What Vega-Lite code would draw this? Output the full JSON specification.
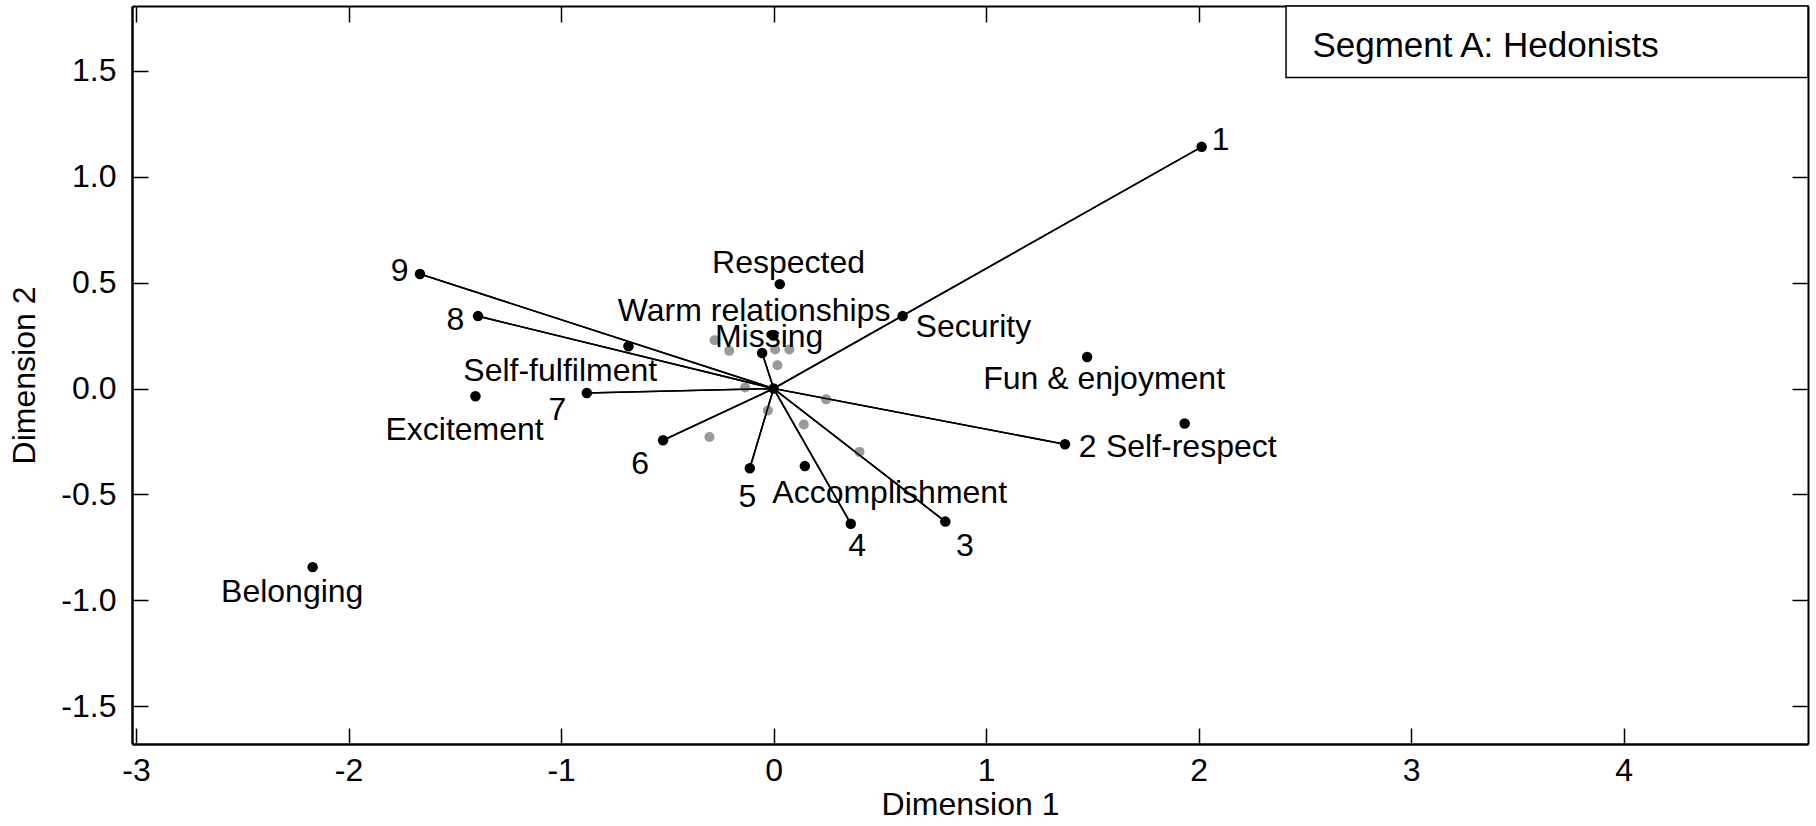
{
  "$schema": "https://vega.github.io/schema/vega-lite/v6.json",
  "width": 1676,
  "height": 738,
  "autosize": "none",
  "padding": {"left": 132, "top": 6, "right": 8, "bottom": 82},
  "background": "white",
  "config": {
    "view": {"stroke": null},
    "font": "Liberation Sans",
    "axis": {
      "grid": false,
      "domainColor": "black",
      "tickColor": "black",
      "labelColor": "black",
      "titleColor": "black",
      "labelFont": "Liberation Sans",
      "titleFont": "Liberation Sans",
      "labelFontSize": 32,
      "titleFontSize": 32,
      "titleFontWeight": "normal",
      "labelFlush": false,
      "labelOverlap": false,
      "tickSize": -16,
      "tickWidth": 1.5,
      "domainWidth": 2.5
    }
  },
  "datasets": {
    "rays": [
      {"ray": "1", "x": 0, "y": 0, "x2": 2.014, "y2": 1.141},
      {"ray": "2", "x": 0, "y": 0, "x2": 1.371, "y2": -0.263},
      {"ray": "3", "x": 0, "y": 0, "x2": 0.808, "y2": -0.628},
      {"ray": "4", "x": 0, "y": 0, "x2": 0.363, "y2": -0.638},
      {"ray": "5", "x": 0, "y": 0, "x2": -0.112, "y2": -0.376},
      {"ray": "6", "x": 0, "y": 0, "x2": -0.52, "y2": -0.244},
      {"ray": "7", "x": 0, "y": 0, "x2": -0.879, "y2": -0.021},
      {"ray": "8", "x": 0, "y": 0, "x2": -1.391, "y2": 0.342},
      {"ray": "9", "x": 0, "y": 0, "x2": -1.664, "y2": 0.541},
      {"ray": "m", "x": 0, "y": 0, "x2": -0.054, "y2": 0.168}
    ],
    "black": [
      {"x": 0, "y": 0},
      {"x": 2.014, "y": 1.141},
      {"x": 1.371, "y": -0.263},
      {"x": 0.808, "y": -0.628},
      {"x": 0.363, "y": -0.638},
      {"x": -0.112, "y": -0.376},
      {"x": -0.52, "y": -0.244},
      {"x": -0.879, "y": -0.021},
      {"x": -1.391, "y": 0.342},
      {"x": -1.664, "y": 0.541},
      {"x": -0.054, "y": 0.168},
      {"x": 0.607, "y": 0.342},
      {"x": 0.029, "y": 0.493},
      {"x": -0.001, "y": 0.25},
      {"x": -0.683, "y": 0.2},
      {"x": -1.403, "y": -0.036},
      {"x": 0.147, "y": -0.366},
      {"x": 1.475, "y": 0.149},
      {"x": 1.934, "y": -0.165},
      {"x": -2.169, "y": -0.843}
    ],
    "grey": [
      {"x": -0.278, "y": 0.228},
      {"x": -0.209, "y": 0.178},
      {"x": 0.007, "y": 0.184},
      {"x": 0.074, "y": 0.184},
      {"x": 0.018, "y": 0.11},
      {"x": -0.134, "y": 0.005},
      {"x": 0.247, "y": -0.051},
      {"x": -0.027, "y": -0.104},
      {"x": 0.142, "y": -0.17},
      {"x": -0.302, "y": -0.229},
      {"x": 0.404, "y": -0.299}
    ],
    "labels": [
      {"text": "1", "x": 2.103, "y": 1.173},
      {"text": "Security", "x": 0.94, "y": 0.291},
      {"text": "Fun & enjoyment", "x": 1.555, "y": 0.044},
      {"text": "2", "x": 1.478, "y": -0.276},
      {"text": "Self-respect", "x": 1.965, "y": -0.276},
      {"text": "Respected", "x": 0.07, "y": 0.595},
      {"text": "Warm relationships", "x": -0.092, "y": 0.365},
      {"text": "Missing", "x": -0.021, "y": 0.244},
      {"text": "Self-fulfilment", "x": -1.004, "y": 0.084},
      {"text": "Excitement", "x": -1.454, "y": -0.194},
      {"text": "7", "x": -1.017, "y": -0.103},
      {"text": "9", "x": -1.76, "y": 0.556},
      {"text": "8", "x": -1.497, "y": 0.323},
      {"text": "6", "x": -0.628, "y": -0.354},
      {"text": "5", "x": -0.123, "y": -0.512},
      {"text": "Accomplishment", "x": 0.546, "y": -0.491},
      {"text": "4", "x": 0.393, "y": -0.743},
      {"text": "3", "x": 0.9, "y": -0.743},
      {"text": "Belonging", "x": -2.265, "y": -0.961}
    ],
    "box": [
      {"x": 2.411, "x2": 4.867, "y": 1.469, "y2": 1.806, "text": "Segment A: Hedonists", "tx": 2.535, "ty": 1.617}
    ]
  },
  "layer": [
    {
      "data": {"name": "rays"},
      "mark": {"type": "rule", "color": "black", "strokeWidth": 1.6},
      "encoding": {
        "x": {"field": "x", "type": "quantitative", "scale": {"domain": [-3.019, 4.867], "nice": false, "zero": false},
          "axis": {"orient": "bottom", "values": [-3, -2, -1, 0, 1, 2, 3, 4], "labelExpr": "replace(format(datum.value, 'd'), '\u2212', '-')", "labelPadding": 27, "title": "Dimension 1", "titlePadding": 3}},
        "y": {"field": "y", "type": "quantitative", "scale": {"domain": [-1.678, 1.806], "nice": false, "zero": false},
          "axis": {"orient": "left", "values": [-1.5, -1, -0.5, 0, 0.5, 1, 1.5], "labelExpr": "replace(format(datum.value, '.1f'), '\u2212', '-')", "labelPadding": 32, "title": "Dimension 2", "titlePadding": 19}},
        "x2": {"field": "x2"},
        "y2": {"field": "y2"}
      }
    },
    {
      "data": {"name": "box"},
      "mark": {"type": "rect", "fill": "white", "stroke": "black", "strokeWidth": 1.5},
      "encoding": {
        "x": {"field": "x", "type": "quantitative", "scale": {"domain": [-3.019, 4.867], "nice": false, "zero": false},
          "axis": {"orient": "top", "values": [-3, -2, -1, 0, 1, 2, 3, 4], "labels": false, "title": null, "domainWidth": 2}},
        "x2": {"field": "x2"},
        "y": {"field": "y", "type": "quantitative", "scale": {"domain": [-1.678, 1.806], "nice": false, "zero": false},
          "axis": {"orient": "right", "values": [-1.5, -1, -0.5, 0, 0.5, 1, 1.5], "labels": false, "title": null, "domainWidth": 2}},
        "y2": {"field": "y2"}
      }
    },
    {
      "data": {"name": "box"},
      "mark": {"type": "text", "align": "left", "baseline": "middle", "fontSize": 35, "font": "Liberation Sans", "color": "black"},
      "encoding": {
        "x": {"field": "tx", "type": "quantitative", "scale": {"domain": [-3.019, 4.867], "nice": false, "zero": false}, "axis": null},
        "y": {"field": "ty", "type": "quantitative", "scale": {"domain": [-1.678, 1.806], "nice": false, "zero": false}, "axis": null},
        "text": {"field": "text"}
      }
    },
    {
      "data": {"name": "grey"},
      "mark": {"type": "circle", "size": 100, "color": "#999999", "opacity": 1},
      "encoding": {
        "x": {"field": "x", "type": "quantitative", "scale": {"domain": [-3.019, 4.867], "nice": false, "zero": false}, "axis": null},
        "y": {"field": "y", "type": "quantitative", "scale": {"domain": [-1.678, 1.806], "nice": false, "zero": false}, "axis": null}
      }
    },
    {
      "data": {"name": "rays"},
      "mark": {"type": "rule", "color": "black", "strokeWidth": 1.6},
      "encoding": {
        "x": {"field": "x", "type": "quantitative", "scale": {"domain": [-3.019, 4.867], "nice": false, "zero": false}, "axis": null},
        "y": {"field": "y", "type": "quantitative", "scale": {"domain": [-1.678, 1.806], "nice": false, "zero": false}, "axis": null},
        "x2": {"field": "x2"},
        "y2": {"field": "y2"}
      }
    },
    {
      "data": {"name": "black"},
      "mark": {"type": "circle", "size": 110, "color": "black", "opacity": 1},
      "encoding": {
        "x": {"field": "x", "type": "quantitative", "scale": {"domain": [-3.019, 4.867], "nice": false, "zero": false}, "axis": null},
        "y": {"field": "y", "type": "quantitative", "scale": {"domain": [-1.678, 1.806], "nice": false, "zero": false}, "axis": null}
      }
    },
    {
      "data": {"name": "labels"},
      "mark": {"type": "text", "align": "center", "baseline": "middle", "fontSize": 32, "font": "Liberation Sans", "color": "black"},
      "encoding": {
        "x": {"field": "x", "type": "quantitative", "scale": {"domain": [-3.019, 4.867], "nice": false, "zero": false}, "axis": null},
        "y": {"field": "y", "type": "quantitative", "scale": {"domain": [-1.678, 1.806], "nice": false, "zero": false}, "axis": null},
        "text": {"field": "text"}
      }
    }
  ],
  "resolve": {"axis": {"x": "independent", "y": "independent"}}
}
